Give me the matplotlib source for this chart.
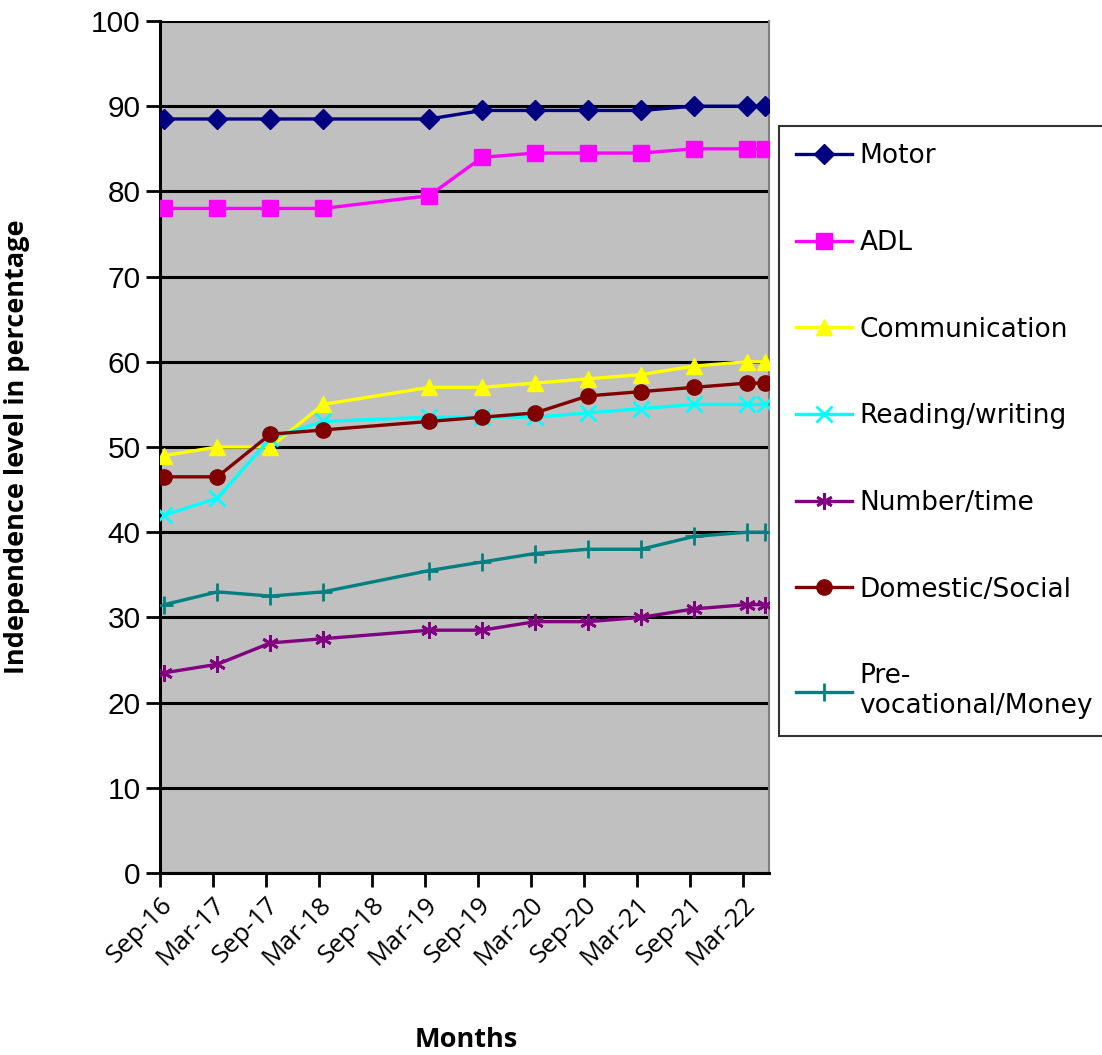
import matplotlib
matplotlib.use("Agg")
import matplotlib.pyplot as plt
import numpy as np

# assessment dates (year, month)
dates = [(2016, 9), (2017, 3), (2017, 9), (2018, 3), (2019, 3), (2019, 9),
         (2020, 3), (2020, 9), (2021, 3), (2021, 9), (2022, 3), (2022, 5)]

motor = [88.5, 88.5, 88.5, 88.5, 88.5, 89.5, 89.5, 89.5, 89.5, 90, 90, 90]
adl = [78, 78, 78, 78, 79.5, 84, 84.5, 84.5, 84.5, 85, 85, 85]
communication = [49, 50, 50, 55, 57, 57, 57.5, 58, 58.5, 59.5, 60, 60]
reading = [42, 44, 51, 53, 53.5, 53.5, 53.5, 54, 54.5, 55, 55, 55]
number = [23.5, 24.5, 27, 27.5, 28.5, 28.5, 29.5, 29.5, 30, 31, 31.5, 31.5]
domestic = [46.5, 46.5, 51.5, 52, 53, 53.5, 54, 56, 56.5, 57, 57.5, 57.5]
prevoc = [31.5, 33, 32.5, 33, 35.5, 36.5, 37.5, 38, 38, 39.5, 40, 40]

tick_labels = ["Sep-16", "Mar-17", "Sep-17", "Mar-18", "Sep-18", "Mar-19",
               "Sep-19", "Mar-20", "Sep-20", "Mar-21", "Sep-21", "Mar-22"]

# month index from Sep-16, points sit in the middle of their month
x = np.array([(y - 2016) * 12 + (m - 9) for y, m in dates]) + 0.5

fig = plt.figure(figsize=(11.02, 10.55), dpi=100)
ax = fig.add_axes([160 / 1102, 1 - 873 / 1055, (769 - 160) / 1102, (873 - 21) / 1055])
ax.set_facecolor("#C0C0C0")

series = [
    ("Motor", motor, "#000080", "D", 10, dict()),
    ("ADL", adl, "#FF00FF", "s", 11, dict()),
    ("Communication", communication, "#FFFF00", "^", 11, dict()),
    ("Reading/writing", reading, "#00FFFF", "x", 11, dict(markeredgewidth=2)),
    ("Number/time", number, "#800080", (6, 2, 0), 12, dict(markeredgewidth=2)),
    ("Domestic/Social", domestic, "#800000", "o", 11, dict()),
    ("Pre-\nvocational/Money", prevoc, "#008080", "+", 13, dict(markeredgewidth=2)),
]
for name, vals, c, mk, ms, kw in series:
    ax.plot(x, vals, color=c, lw=2.4, marker=mk, markersize=ms,
            markerfacecolor=c, markeredgecolor=c, label=name, zorder=3, **kw)

ax.set_xlim(0, 69)
ax.set_ylim(0, 100)
ax.set_yticks(np.arange(0, 101, 10))
ax.set_xticks(np.arange(0, 67, 6))
ax.set_xticklabels(tick_labels, rotation=45, ha="right", rotation_mode="anchor",
                   fontsize=18.5, family="Open Sans")
for lab in ax.get_yticklabels():
    lab.set_family("Liberation Sans")
    lab.set_fontsize(21.5)
ax.yaxis.grid(True, color="black", lw=2.2)
ax.set_axisbelow(True)
ax.tick_params(axis="both", direction="out", length=10, width=2, color="black")
ax.tick_params(axis="x", pad=4)
ax.tick_params(axis="y", pad=4)

ax.spines["left"].set_linewidth(2.2)
ax.spines["bottom"].set_linewidth(2.2)
ax.spines["top"].set_visible(False)
ax.spines["right"].set_color("#808080")
ax.spines["right"].set_linewidth(1.5)

ax.set_ylabel("Independence level in percentage", fontsize=19.5, fontweight="bold",
              family="Open Sans")
ax.yaxis.set_label_coords((30 - 160) / 609, 0.5)
fig.text(466 / 1102, 1 - 1040 / 1055, "Months", fontsize=19.5, fontweight="bold",
         family="Open Sans", ha="center", va="center")

leg = fig.legend(loc="upper left", bbox_to_anchor=(779 / 1102, 1 - 126 / 1055),
                 prop=dict(family="DejaVu Sans", size=19), frameon=True,
                 fancybox=False, edgecolor="black", labelspacing=2.3,
                 handlelength=2.1, handletextpad=0.3, borderpad=0.65,
                 borderaxespad=0)
leg.get_frame().set_linewidth(1.5)

fig.savefig("out.png", dpi=100)
